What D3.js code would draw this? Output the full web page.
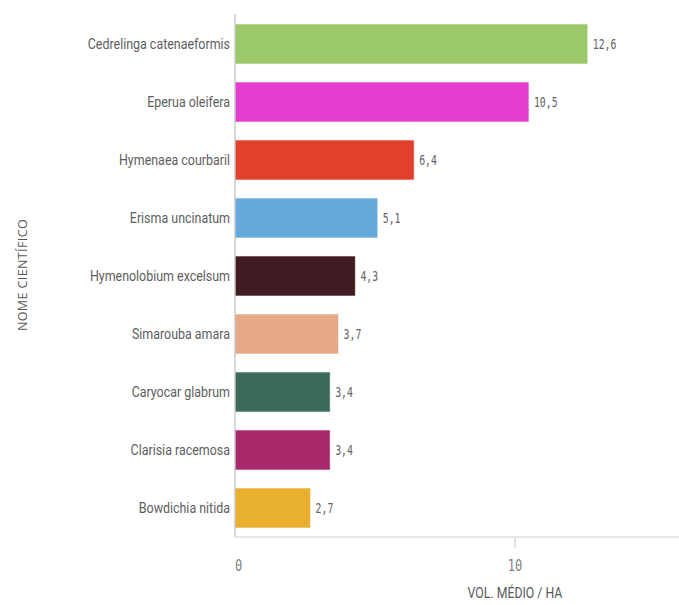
<!DOCTYPE html>
<html>
<head>
<meta charset="utf-8">
<script src="https://cdn.jsdelivr.net/npm/d3@7"></script>
<style>
  html, body { margin: 0; padding: 0; background: #fff; }
  svg { display: block; }
</style>
</head>
<body>
<svg id="chart" width="679" height="605"></svg>
<script>
const categories = [
  "Cedrelinga catenaeformis",
  "Eperua oleifera",
  "Hymenaea courbaril",
  "Erisma uncinatum",
  "Hymenolobium excelsum",
  "Simarouba amara",
  "Caryocar glabrum",
  "Clarisia racemosa",
  "Bowdichia nitida"
];
const values = [12.6, 10.5, 6.4, 5.1, 4.3, 3.7, 3.4, 3.4, 2.7];
const colors = ["#9bc96a", "#e33ccf", "#e1402b", "#64a8dc", "#411b21", "#e5a987", "#3c6a58", "#a8296a", "#e8b02d"];
const xTicks = [0, 10];
const xTitle = "VOL. MÉDIO / HA";
const yTitle = "NOME CIENTÍFICO";

(function () {
const fmt = v => d3.format(".1f")(v).replace(".", ",");

const svg = d3.select("#chart");
const mLeft = 235, mRight = 679, mTop = 15, mBottom = 537;

const x = d3.scaleLinear().domain([0, 15.86]).range([mLeft, mRight]);
const y = d3.scaleBand().domain(categories).range([mTop, mBottom]).paddingInner(0.31).paddingOuter(0.155);

// bars
svg.append("g").selectAll("rect")
  .data(categories)
  .join("rect")
  .attr("x", x(0))
  .attr("y", d => y(d))
  .attr("width", (d, i) => x(values[i]) - x(0))
  .attr("height", y.bandwidth())
  .attr("fill", (d, i) => colors[i])
  .attr("stroke", "rgba(255,255,255,0.6)")
  .attr("stroke-width", 1);

// value labels
svg.append("g").selectAll("text")
  .data(categories)
  .join("text")
  .attr("transform", (d, i) => `translate(${x(values[i]) + 5},${y(d) + y.bandwidth() / 2}) scale(0.68,1)`)
  .attr("dy", "0.36em")
  .attr("font-family", "DejaVu Sans Mono, monospace")
  .attr("font-size", 14.5)
  .attr("fill", "#636363")
  .text((d, i) => fmt(values[i]));

// category labels
svg.append("g").selectAll("text")
  .data(categories)
  .join("text")
  .attr("transform", d => `translate(${mLeft - 5},${y(d) + y.bandwidth() / 2}) scale(0.83,1)`)
  .attr("text-anchor", "end")
  .attr("dy", "0.35em")
  .attr("font-family", "Roboto, sans-serif")
  .attr("font-size", 15)
  .attr("fill", "#5e5e5e")
  .text(d => d);

// axes lines
svg.append("line")
  .attr("x1", mLeft).attr("x2", mLeft)
  .attr("y1", 14).attr("y2", mBottom)
  .attr("stroke", "#bdbdbd").attr("stroke-width", 1.2);
svg.append("line")
  .attr("x1", mLeft).attr("x2", mRight)
  .attr("y1", mBottom).attr("y2", mBottom)
  .attr("stroke", "#d0d0d0").attr("stroke-width", 1.2);

// x ticks
const tg = svg.append("g").selectAll("g")
  .data(xTicks)
  .join("g")
  .attr("transform", d => `translate(${x(d)},0)`);
tg.filter(d => d !== 0).append("line")
  .attr("y1", mBottom).attr("y2", mBottom + 11)
  .attr("stroke", "#d0d0d0").attr("stroke-width", 1.2);
tg.append("text")
  .attr("transform", `translate(0,571) scale(0.75,1)`)
  .attr("text-anchor", d => d === 0 ? "start" : "middle")
  .attr("font-family", "DejaVu Sans Mono, monospace")
  .attr("font-size", 16)
  .attr("fill", "#808080")
  .text(d => d);

// x title
svg.append("text")
  .attr("transform", `translate(${x(10)},598) scale(0.82,1)`)
  .attr("text-anchor", "middle")
  .attr("font-family", "Roboto, sans-serif")
  .attr("font-size", 15)
  .attr("fill", "#595959")
  .text(xTitle);

// y title
svg.append("text")
  .attr("transform", `translate(27,${(mTop + mBottom) / 2 - 1}) rotate(-90)`)
  .attr("text-anchor", "middle")
  .attr("font-family", "Open Sans, sans-serif")
  .attr("font-size", 12.5)
  .attr("letter-spacing", 0.4)
  .attr("fill", "#595959")
  .text(yTitle);
})();
</script>
</body>
</html>
